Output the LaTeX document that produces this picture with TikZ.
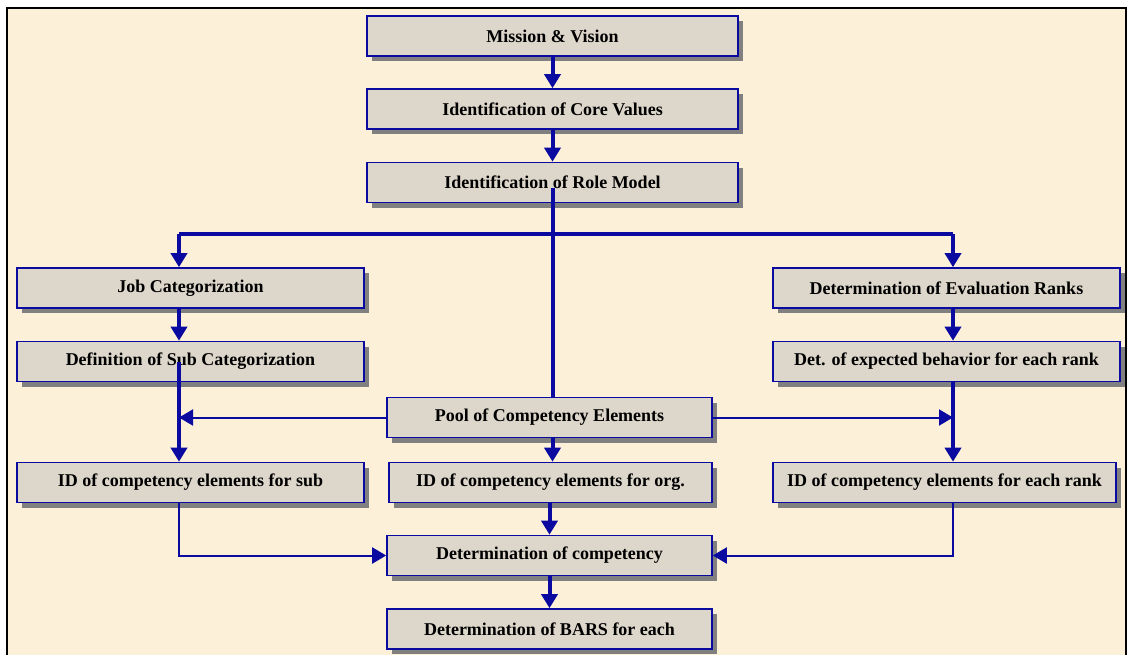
\documentclass[tikz,border=0pt]{standalone}
\usepackage{fontspec}
\setmainfont{Liberation Serif}
\usepackage{xcolor}
\usetikzlibrary{arrows.meta,shadows}
\definecolor{paper}{HTML}{FCF0D8}
\definecolor{stone}{HTML}{DDD6CB}
\definecolor{navy}{HTML}{0A0AA0}
\begin{document}
\begin{tikzpicture}[x=1pt,y=-1pt,
	box/.style={draw=navy, line width=1.6pt, fill=stone, minimum height=40pt, inner sep=0pt,
		font=\fontsize{18}{21}\selectfont\bfseries,
		drop shadow={shadow xshift=5pt, shadow yshift=-5pt, fill=black!50, opacity=1}},
	wide/.style={box, minimum width=347pt},
	mid/.style={box, minimum width=325pt},
	flow/.style={draw=navy, line width=4pt, -{Triangle[width=16pt,length=14pt]}},
	feed/.style={draw=navy, line width=2pt, -{Triangle[width=16pt,length=14pt]}}]
		\useasboundingbox (0,0) rectangle (1128,654);
		\fill[white] (0,0) rectangle (1128,654);
		\filldraw[fill=paper, draw=black, line width=2.4pt] (7,8) rectangle (1126,680);
		\node[box, minimum width=371pt] (mission) at (552.5,36) {Mission \& Vision};
		\node[box, minimum width=371pt] (core) at (552.5,109) {Identification of Core Values};
		\node[box, minimum width=371pt] (role) at (552.5,182.5) {Identification of Role Model};
		\node[wide] (jobcat) at (190.5,288) {Job Categorization};
		\node[wide] (subcat) at (190.5,361.5) {Definition of Sub Categorization};
		\node[wide] (ranks) at (946.5,288) {Determination of Evaluation Ranks};
		\node[wide] (behav) at (946.5,361.5) {Det. of expected behavior for each rank};
		\node[mid] (pool) at (549.5,417.5) {Pool of Competency Elements};
		\node[wide] (idsub) at (190.5,482.5) {ID of competency elements for sub};
		\node[box, minimum width=323pt] (idorg) at (550.5,482.5) {ID of competency elements for org.};
		\node[box, minimum width=343pt] (idrank) at (944.5,482.5) {ID of competency elements for each rank};
		\node[mid] (detcomp) at (549.5,555.5) {Determination of competency};
		\node[mid] (bars) at (549.5,629) {Determination of BARS for each};
		\coordinate (lbranch) at (179,234);
		\coordinate (rbranch) at (953,234);
		\draw[flow] (mission) -- (core);
		\draw[flow] (core) -- (role);
		\draw[navy, line width=4pt] (role.center) ++(0,5) -- (pool.north -| role);
		\draw[navy, line width=4pt] (lbranch) -- (rbranch);
		\draw[flow] (lbranch) -- (jobcat.north -| lbranch);
		\draw[flow] (rbranch) -- (ranks.north -| rbranch);
		\draw[flow] (jobcat.south -| lbranch) -- (subcat.north -| lbranch);
		\draw[flow] (ranks.south -| rbranch) -- (behav.north -| rbranch);
		\draw[flow] (subcat.center -| lbranch) -- (idsub.north -| lbranch);
		\draw[flow] (behav.south -| rbranch) -- (idrank.north -| rbranch);
		\draw[feed] (pool.west) -- (pool.west -| lbranch);
		\draw[feed] (pool.east) -- (pool.east -| rbranch);
		\draw[flow] (pool.south -| role) -- (idorg.north -| role);
		\draw[flow] (idorg.south -| detcomp) -- (detcomp.north);
		\draw[feed] (idsub.south -| lbranch) |- (detcomp.west);
		\draw[feed] (idrank.south -| rbranch) |- (detcomp.east);
		\draw[flow] (detcomp) -- (bars);
		\end{tikzpicture}
\end{document}
